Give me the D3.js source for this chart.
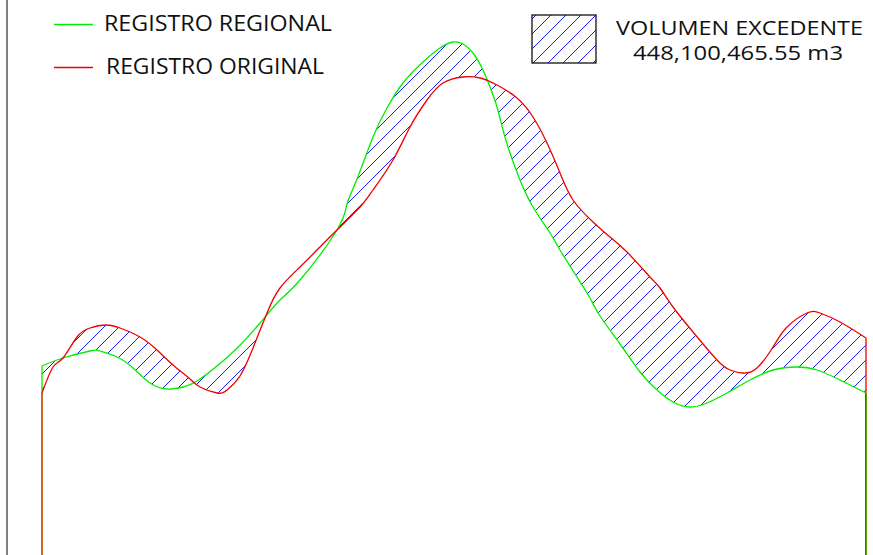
<!DOCTYPE html>
<html><head><meta charset="utf-8">
<script src="https://cdn.jsdelivr.net/npm/d3@7"></script>
<style>html,body{margin:0;padding:0;background:#fff;} svg{display:block}</style>
</head><body><svg id="c" width="873" height="555"></svg>
<script>
// Station (m) and elevation values
const regionalStation = [0,21,48,58,75,91,108,125,141,158,191,218,238,258,295,305,315,331,345,361,381,398,411,421,431,441,448,455,461,468,478,491,508,518,535,548,558,578,598,615,631,648,665,685,708,731,755,775,798,824];
const regionalElev    = [189,197,204,204,198,187,172,166,168,176,203,232,255,275,325,351,376,418,447,472,493,507,513,511,502,485,468,448,425,402,375,348,322,305,278,257,239,211,183,165,153,148,152,162,175,185,188,185,175,162];
const originalStation = [0,11,21,35,48,64,78,98,115,131,148,158,175,185,198,211,225,238,258,275,295,318,331,351,368,385,401,421,438,455,475,491,505,518,531,551,568,585,608,618,631,651,675,688,701,715,731,745,765,778,798,824];
const originalElev    = [162,188,197,218,227,230,227,218,205,190,176,168,162,165,179,207,242,267,288,305,325,348,365,395,428,455,472,478,477,470,457,438,412,382,355,333,318,303,278,267,248,223,195,185,182,187,208,228,242,242,233,217];
const legendLabels = ["REGISTRO REGIONAL","REGISTRO ORIGINAL"];
const legendColors = ["#00ee00","#ee0000"];
const volumeLabel = "VOLUMEN EXCEDENTE";
const volumeValue = "448,100,465.55 m3";

const svg = d3.select("#c");
const x = d3.scaleLinear().domain([0,824]).range([42,866]);
const y = d3.scaleLinear().domain([0,555]).range([555,0]);

const regional = regionalStation.map((s,i)=>[s,regionalElev[i]]);
const original = originalStation.map((s,i)=>[s,originalElev[i]]);

const defs = svg.append("defs");
const pat = defs.append("pattern").attr("id","hatch").attr("patternUnits","userSpaceOnUse")
  .attr("width",15).attr("height",15).attr("x",11).attr("y",0);
pat.append("path").attr("d","M0,15 L15,0 M-3.75,3.75 L3.75,-3.75 M11.25,18.75 L18.75,11.25")
  .attr("stroke","#1a1aff").attr("stroke-width",1.1).attr("fill","none")
  .attr("shape-rendering","crispEdges");

// left border
svg.append("line").attr("x1",7).attr("x2",7).attr("y1",0).attr("y2",555)
  .attr("stroke","#808080").attr("stroke-width",2);

const curve = d3.curveNatural;
const area = d3.area().x(d=>x(d[0])).y1(d=>y(d[1])).y0(y(0)).curve(curve);
const line = d3.line().x(d=>x(d[0])).y(d=>y(d[1])).curve(curve);

// hatched region between curves (symmetric difference)
svg.append("path").attr("d", area(regional) + area(original))
  .attr("fill","url(#hatch)").attr("fill-rule","evenodd").attr("stroke","none");

// edges
const rFirst = regional[0], oFirst = original[0];
const rLast = regional[regional.length-1], oLast = original[original.length-1];
svg.append("line").attr("x1",x(rFirst[0])).attr("x2",x(rFirst[0]))
  .attr("y1",y(rFirst[1])).attr("y2",y(oFirst[1])).attr("stroke","#00ee00").attr("stroke-width",1.3);
svg.append("line").attr("x1",x(oLast[0])).attr("x2",x(oLast[0]))
  .attr("y1",y(oLast[1])).attr("y2",y(rLast[1])).attr("stroke","#ee0000").attr("stroke-width",1.3);
svg.append("line").attr("x1",x(0)).attr("x2",x(0)).attr("y1",y(oFirst[1])).attr("y2",555)
  .attr("stroke","#cc6a2a").attr("stroke-width",2);
svg.append("line").attr("x1",x(824)-0.5).attr("x2",x(824)-0.5).attr("y1",y(rLast[1])).attr("y2",555)
  .attr("stroke","#dd2200").attr("stroke-width",1);
svg.append("line").attr("x1",x(824)+0.5).attr("x2",x(824)+0.5).attr("y1",y(rLast[1])).attr("y2",555)
  .attr("stroke","#55aa00").attr("stroke-width",1);

svg.append("path").attr("d",line(regional)).attr("fill","none").attr("stroke","#00ee00").attr("stroke-width",1.3);
svg.append("path").attr("d",line(original)).attr("fill","none").attr("stroke","#ee0000").attr("stroke-width",1.3);

// legend left
const font = "'Open Sans', 'Liberation Sans', sans-serif";
const legY = [24.5, 67.5];
const legW = [228, 218];
const legX = [104, 106];
legendLabels.forEach((t,i)=>{
  svg.append("line").attr("x1",54).attr("x2",93).attr("y1",legY[i]).attr("y2",legY[i])
    .attr("stroke",legendColors[i]).attr("stroke-width",1.3);
  svg.append("text").attr("x",legX[i]).attr("y",legY[i]+6.5).text(t)
    .attr("font-family",font).attr("font-size",21).attr("fill","#111")
    .attr("textLength",legW[i]).attr("lengthAdjust","spacingAndGlyphs");
});

// legend right
svg.append("rect").attr("x",532).attr("y",15).attr("width",64).attr("height",48)
  .attr("fill","url(#hatch)").attr("stroke","#111").attr("stroke-width",1.3);
svg.append("text").attr("x",616).attr("y",35).text(volumeLabel)
  .attr("font-family",font).attr("font-size",20).attr("fill","#111")
  .attr("textLength",247).attr("lengthAdjust","spacingAndGlyphs");
svg.append("text").attr("x",633).attr("y",59.5).text(volumeValue)
  .attr("font-family",font).attr("font-size",20).attr("fill","#111")
  .attr("textLength",210).attr("lengthAdjust","spacingAndGlyphs");
</script></body></html>
